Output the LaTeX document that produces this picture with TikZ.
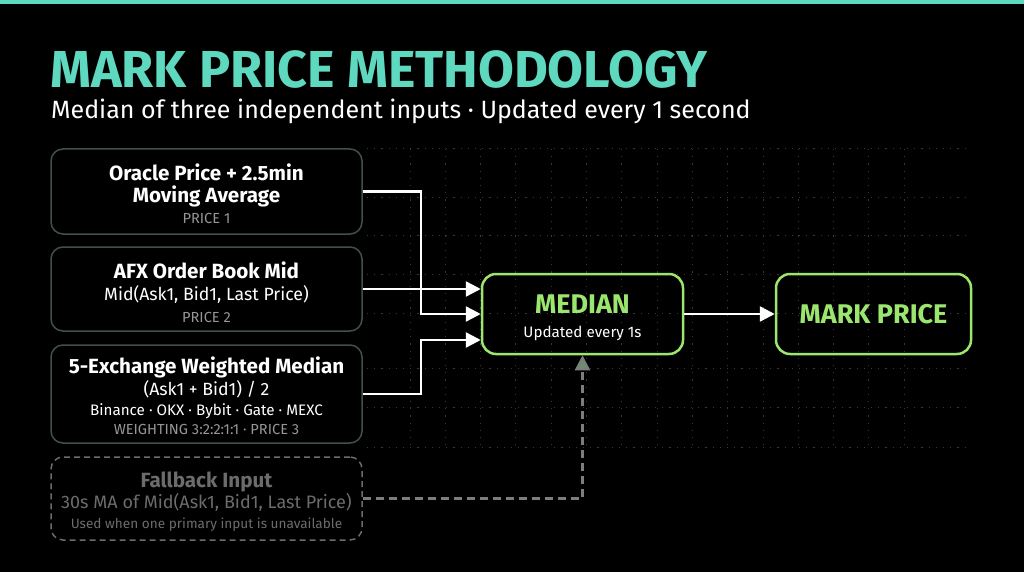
\documentclass[tikz,border=0pt]{standalone}
\usepackage{fontspec}
\setmainfont{Fira Sans}
\usetikzlibrary{arrows.meta, positioning, calc}
\definecolor{markteal}{RGB}{94,216,190}
\definecolor{mediangreen}{RGB}{156,229,110}
\definecolor{boxedge}{RGB}{66,80,74}
\definecolor{labelgray}{RGB}{150,150,150}
\definecolor{fallgray}{RGB}{108,108,108}
\definecolor{fallline}{RGB}{125,125,125}
\definecolor{gridgray}{RGB}{52,58,54}

\begin{document}
\begin{tikzpicture}[x=1pt, y=-1pt,
    inbox/.style={draw=boxedge, line width=1.5pt, rounded corners=12pt, minimum width=311pt, inner sep=0pt},
    fallbox/.style={draw=fallgray, line width=1.5pt, dash pattern=on 6pt off 4pt, rounded corners=12pt, minimum width=311pt, minimum height=83pt, inner sep=0pt},
    greenbox/.style={draw=mediangreen, line width=2.5pt, rounded corners=14pt, minimum height=80pt, inner sep=0pt},
    headtxt/.style={anchor=base, text=white, font=\fontsize{20.6}{24}\selectfont\bfseries},
    subtxt/.style={anchor=base, text=white, font=\fontsize{17.7}{20}\selectfont},
    smalltxt/.style={anchor=base, text=white, font=\fontsize{15.2}{18}\selectfont},
    tagtxt/.style={anchor=base, text=labelgray, font=\fontsize{14.6}{16}\selectfont},
    feed/.style={white, line width=2.5pt, -{Triangle[length=15pt,width=15pt]}},
    fallfeed/.style={fallline, line width=2.5pt, dash pattern=on 8pt off 5pt, -{Triangle[length=15pt,width=15pt,fill=fallline!85!green]}},
  ]
  % Canvas
  \fill[black] (0,0) rectangle (1024,572);
  \useasboundingbox (0,0) rectangle (1024,572);
  \fill[markteal] (0,0) rectangle (1024,4);

  % Faint grid
  \foreach \gx in {410,445.3,...,905}
    \draw[gridgray, line width=1pt, dash pattern=on 1.2pt off 6pt] (\gx,149) -- (\gx,447);
  \foreach \gy in {149,197,235,274,313,368,407,447}
    \draw[gridgray, line width=1pt, dash pattern=on 1.2pt off 6pt] (367,\gy) -- (970,\gy);

  % Title
  \node[anchor=base west, inner sep=0pt, text=markteal, font=\fontsize{52}{60}\selectfont\bfseries] (title) at (50,88) {MARK PRICE METHODOLOGY};
  \node[anchor=base west, inner sep=0pt, text=white, font=\fontsize{25}{30}\selectfont] (subtitle) at (51,119) {Median of three independent inputs · Updated every 1 second};

  % Inputs
  \node[inbox, minimum height=85pt] (p1) at (206.5,191.5) {};
  \node[headtxt] (p1a) at (206.5,180) {Oracle Price + 2.5min};
  \node[headtxt] (p1b) at (206.5,202) {Moving Average};
  \node[tagtxt] (p1c) at (206.5,223) {PRICE 1};

  \node[inbox, minimum height=84pt] (p2) at (206.5,289) {};
  \node[headtxt] (p2a) at (206.5,278) {AFX Order Book Mid};
  \node[subtxt] (p2b) at (206.5,300) {Mid(Ask1, Bid1, Last Price)};
  \node[tagtxt] (p2c) at (206.5,322) {PRICE 2};

  \node[inbox, minimum height=98pt] (p3) at (206.5,394) {};
  \node[headtxt] (p3a) at (206.5,373) {5-Exchange Weighted Median};
  \node[subtxt] (p3b) at (206.5,395) {(Ask1 + Bid1) / 2};
  \node[smalltxt] (p3c) at (206.5,415) {Binance · OKX · Bybit · Gate · MEXC};
  \node[tagtxt] (p3d) at (206.5,434) {WEIGHTING 3:2:2:1:1 · PRICE 3};

  \node[fallbox] (p4) at (206.5,498.5) {};
  \node[headtxt, text=fallgray] (p4a) at (206.5,487) {Fallback Input};
  \node[subtxt, text=fallgray, font=\fontsize{18}{20}\selectfont] (p4b) at (206.5,508) {30s MA of Mid(Ask1, Bid1, Last Price)};
  \node[tagtxt, text=fallgray, font=\fontsize{13.6}{16}\selectfont] (p4c) at (206.5,528) {Used when one primary input is unavailable};

  % Median and output
  \node[greenbox, minimum width=201pt] (med) at (582.5,314) {};
  \node[anchor=base, text=mediangreen, font=\fontsize{27}{30}\selectfont\bfseries] (meda) at (582.5,313) {MEDIAN};
  \node[smalltxt] (medb) at (582.5,337) {Updated every 1s};

  \node[greenbox, minimum width=195pt] (mark) at (873.5,314) {};
  \node[anchor=base, text=mediangreen, font=\fontsize{27}{30}\selectfont\bfseries] (marka) at (873.5,323) {MARK PRICE};

  % Connectors
  \coordinate (tap) at (421,0);
  \draw[feed] (p1.east) -- (p1.east -| tap) |- (med.west);
  \draw[feed] (p2.east) -- (p2.east -| med.west);
  \draw[feed] (p3.east) -- (p3.east -| tap) |- ($(med.west)+(0,26)$);
  \draw[fallfeed] (p4.east) -| (med.south);
  \draw[feed] (med.east) -- (mark.west);
\end{tikzpicture}
\end{document}
